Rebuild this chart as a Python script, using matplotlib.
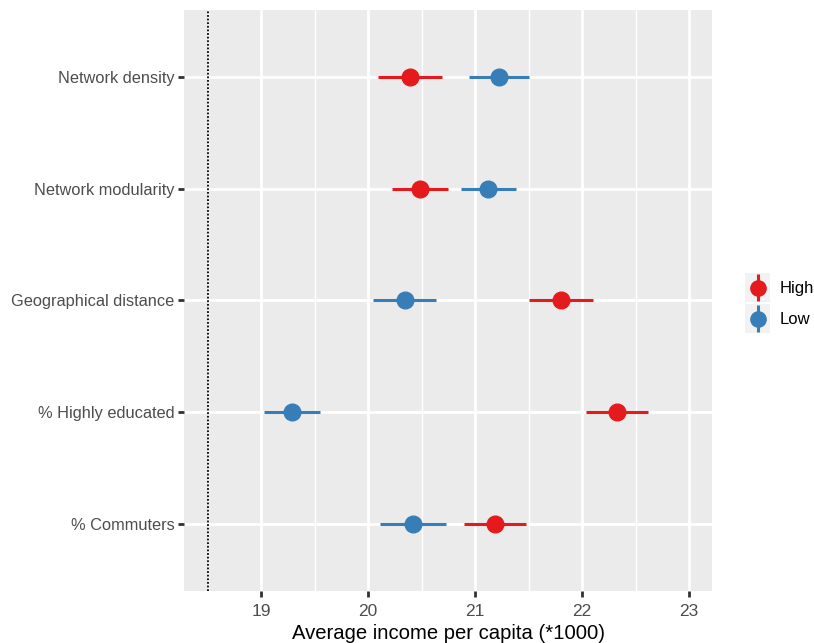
import numpy as np
import matplotlib
matplotlib.use("Agg")
import matplotlib.pyplot as plt
from matplotlib.ticker import MultipleLocator

plt.rcParams['font.family'] = ['Liberation Sans', 'DejaVu Sans']

# -> Data
categories = ["Network density", "Network modularity", "Geographical distance",
              "% Highly educated", "% Commuters"]
high_mean = [20.39, 20.49, 21.80, 22.33, 21.19]
high_lo = [20.09, 20.22, 21.50, 22.04, 20.90]
high_hi = [20.69, 20.75, 22.10, 22.62, 21.48]
low_mean = [21.22, 21.12, 20.35, 19.29, 20.42]
low_lo = [20.94, 20.87, 20.05, 19.03, 20.11]
low_hi = [21.50, 21.38, 20.64, 19.55, 20.73]
ref_line = 18.5
x_ticks = [19, 20, 21, 22, 23]

RED = "#E41A1C"
BLUE = "#377EB8"
PANEL = "#EBEBEB"
TEXT = "#4D4D4D"

fig = plt.figure(figsize=(8.14, 6.43), dpi=100)
ax = fig.add_axes([184/814, 52/643, 528/814, 581/643])
ax.set_facecolor(PANEL)
for s in ax.spines.values():
    s.set_visible(False)

n = len(categories)
ypos = np.arange(n)[::-1]

ax.set_xlim(18.28, 23.215)
ax.set_ylim(-0.6, n - 1 + 0.6)
ax.set_xticks(x_ticks)
ax.xaxis.set_minor_locator(MultipleLocator(0.5))
ax.set_yticks(ypos)
ax.set_yticklabels(categories)
ax.grid(which='major', color='white', linewidth=2.0)
ax.grid(which='minor', axis='x', color='white', linewidth=1.0)
ax.set_axisbelow(True)
ax.tick_params(which='major', length=4, width=2, color='#333333',
               labelsize=11.8, labelcolor=TEXT, pad=3)
ax.tick_params(axis='x', which='major', labelsize=12.5, pad=5)
ax.tick_params(which='minor', length=0)

ax.axvline(ref_line, color='black', linestyle=(0, (1, 1)), linewidth=1.3, zorder=2)

def draw(mean, lo, hi, color):
    mean = np.array(mean)
    err = [mean - np.array(lo), np.array(hi) - mean]
    ax.errorbar(mean, ypos, xerr=err, fmt='o', color=color, ecolor=color,
                elinewidth=2.2, markersize=12, capsize=0, zorder=3)

draw(high_mean, high_lo, high_hi, RED)
draw(low_mean, low_lo, low_hi, BLUE)

ax.set_xlabel("Average income per capita (*1000)", fontsize=14.6, color='black', labelpad=4)

# -> Legend keys, ggplot style
for i, (lab, col) in enumerate([("High", RED), ("Low", BLUE)]):
    kx = fig.add_axes([745/814, (643 - 302 - i*31)/643, 25/814, 29/643])
    kx.set_facecolor("#F2F2F2")
    for s in kx.spines.values():
        s.set_visible(False)
    kx.set_xticks([]); kx.set_yticks([])
    kx.set_xlim(-1, 1); kx.set_ylim(-1, 1)
    kx.errorbar([0], [0], yerr=[[0.95], [0.95]], fmt='o', color=col, ecolor=col,
                elinewidth=2.2, markersize=11, capsize=0)
    fig.text(780/814, (643 - 288 - i*31)/643, lab, fontsize=12, color='black',
             va='center', ha='left')

fig.savefig("out.png", dpi=100)
